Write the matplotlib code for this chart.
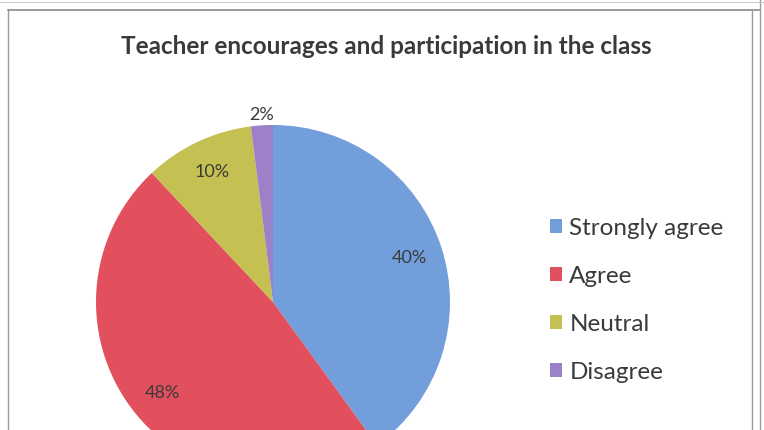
import numpy as np
import matplotlib
matplotlib.use("Agg")
import matplotlib.pyplot as plt
from matplotlib.lines import Line2D

categories = ["Strongly agree", "Agree", "Neutral", "Disagree"]
values = [40, 48, 10, 2]
colors = ["#729fdc", "#e2505d", "#c4c152", "#9c81c8"]
title = "Teacher encourages and participation in the class"

W, H = 764, 430
fig = plt.figure(figsize=(W / 100, H / 100), dpi=100)
fig.patch.set_facecolor("white")
plt.rcParams['font.family'] = ['Lato', 'DejaVu Sans']

# frame lines
def fx(x): return x / W
def fy(y): return 1 - y / H
for (x0, y0, x1, y1, c, lw) in [
    (8, 10, 8, 430, "#9a9a9a", 1.0),
    (8, 10, 760, 10, "#8a8a8a", 1.2),
    (752, 10, 752, 430, "#9a9a9a", 1.0),
    (760, 0, 760, 430, "#9a9a9a", 1.0),
    (0, 2, 764, 2, "#cccccc", 0.8),
]:
    fig.add_artist(Line2D([fx(x0), fx(x1)], [fy(y0), fy(y1)], color=c, lw=lw))

fig.text(fx(386), fy(47), title, ha="center", va="center", fontsize=17.5,
         fontweight="bold", color="#3a3a3a")

cx, cy, r = 273, 302, 177
ax = fig.add_axes([fx(cx - r), (H - cy - r) / H, 2 * r / W, 2 * r / H])
wedges, texts, autotexts = ax.pie(values, colors=colors, startangle=90,
                                  counterclock=False, radius=1,
                                  autopct=lambda p: f"{p:.0f}%", pctdistance=0.81,
                                  textprops=dict(fontsize=13, color="#3a3a3a"))
ax.set_xlim(-1, 1)
ax.set_ylim(-1, 1)
ax.axis("off")
# small slice label placed outside (best fit)
w = wedges[-1]
mid = np.deg2rad((w.theta1 + w.theta2) / 2)
autotexts[-1].set_position((1.06 * np.cos(mid), 1.06 * np.sin(mid)))
for t in autotexts:
    t.set_clip_on(False)

leg = fig.legend(wedges, categories, loc="upper left",
                 bbox_to_anchor=(fx(528), fy(196)), frameon=False,
                 fontsize=17.5, handlelength=0.5, handleheight=0.5,
                 handletextpad=0.3, labelspacing=1.11, labelcolor="#3a3a3a")
for h in leg.legend_handles:
    h.set_edgecolor("none")

fig.savefig("out.png", dpi=100)
